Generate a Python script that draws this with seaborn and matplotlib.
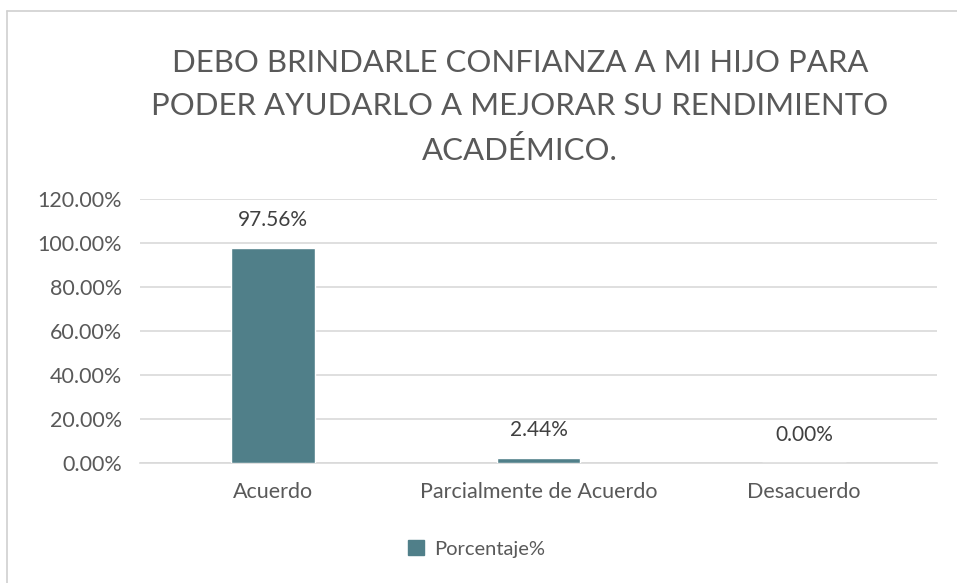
import numpy as np
import pandas as pd
import matplotlib.pyplot as plt
import matplotlib.lines as mlines
import matplotlib.patches as mpatches
from matplotlib.ticker import FuncFormatter
import seaborn as sb

categorias = ["Acuerdo", "Parcialmente de Acuerdo", "Desacuerdo"]
porcentaje = [97.56, 2.44, 0.00]
serie = "Porcentaje%"
titulo = "DEBO BRINDARLE CONFIANZA A MI HIJO PARA\nPODER AYUDARLO A MEJORAR SU RENDIMIENTO\nACADÉMICO."

df = pd.DataFrame({"cat": categorias, "val": porcentaje})

sb.set_style("white")
plt.rcParams['font.family'] = ['Lato', 'DejaVu Sans']
gris = "#595959"
color = "#507F89"

fig = plt.figure(figsize=(9.57, 5.83), dpi=100)
ax = fig.add_axes([0.1463, 0.2058, 0.8328, 0.4529])

sb.barplot(data=df, x="cat", y="val", color=color, width=0.316,
           saturation=1, ax=ax, zorder=3)

ax.set_ylim(0, 120)
ax.set_xlim(-0.5, 2.5)
ax.set_yticks(np.arange(0, 121, 20))
ax.yaxis.set_major_formatter(FuncFormatter(lambda v, p: f"{v:.2f}%"))
ax.grid(axis="y", color="#D9D9D9", linewidth=1.2, zorder=0)
for s in ["top", "right", "left"]:
    ax.spines[s].set_visible(False)
ax.spines["bottom"].set_color("#D9D9D9")
ax.spines["bottom"].set_linewidth(1.2)
ax.tick_params(axis="both", length=0, labelsize=15.5, colors=gris)
ax.tick_params(axis="y", pad=13)
ax.tick_params(axis="x", pad=14)
ax.set_xlabel("")
ax.set_ylabel("")

for i, v in enumerate(porcentaje):
    ax.annotate(f"{v:.2f}%", (i, v), xytext=(0, 13), textcoords="offset points",
                ha="center", va="bottom", fontsize=15, color="#404040")

fig.text(0.5434, 0.8165, titulo, ha="center", va="center", fontsize=22.4,
         color=gris, linespacing=1.68)

handle = mpatches.Patch(color=color, label=serie)
fig.legend(handles=[handle], loc="center", bbox_to_anchor=(0.498, 0.058),
           frameon=False, fontsize=14.5, handlelength=0.75, handleheight=0.75,
           handletextpad=0.5, labelcolor=gris)

# borde del cuadro del grafico
fig.add_artist(mlines.Line2D([7 / 957, 7 / 957], [0, 1 - 11 / 583],
                             color="#D0D0D0", lw=1.2))
fig.add_artist(mlines.Line2D([7 / 957, 1], [1 - 11 / 583, 1 - 11 / 583],
                             color="#D0D0D0", lw=1.2))

fig.savefig("out.png", dpi=100)
